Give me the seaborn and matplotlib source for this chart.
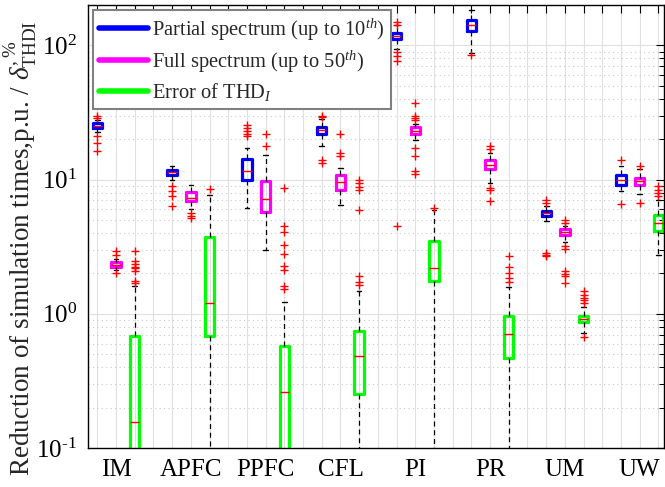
import numpy as np
import pandas as pd
import matplotlib
matplotlib.use('Agg')
import matplotlib.pyplot as plt
from matplotlib.lines import Line2D
from matplotlib.ticker import FuncFormatter
import seaborn as sns

categories = ['IM', 'APFC', 'PPFC', 'CFL', 'PI', 'PR', 'UM', 'UW']
series = ['Partial', 'Full', 'Error']
colors = {'Partial': '#0000ff', 'Full': '#ff00ff', 'Error': '#00ff00'}

# box stats per category: lower whisker, q1, median, q3, upper whisker
partial_lo = [22.7, 10.0, 6.15, 17.9, 94.5, 88.3, 4.94, 8.27]
partial_q1 = [24.3, 10.9, 9.88, 21.7, 111, 127, 5.39, 9.06]
partial_med = [25.3, 11.3, 11.6, 23.3, 117, 141, 5.64, 9.88]
partial_q3 = [26.5, 11.7, 14.3, 24.7, 124, 154, 5.87, 10.8]
partial_hi = [28.0, 12.6, 17.3, 28.4, 141, 183, 6.40, 12.6]

full_lo = [2.13, 6.08, 2.99, 6.51, 19.9, 9.45, 3.40, 7.82]
full_q1 = [2.23, 6.97, 5.74, 8.42, 21.7, 12.0, 3.87, 9.06]
full_med = [2.32, 7.34, 7.21, 9.61, 22.9, 12.9, 4.07, 9.77]
full_q3 = [2.42, 8.04, 9.71, 10.8, 24.6, 14.1, 4.29, 10.3]
full_hi = [2.56, 9.06, 15.2, 12.2, 26.0, 15.8, 4.54, 12.0]

error_lo = [0.005, 0.03, 0.01, 0.03, 0.05, 0.05, 0.718, 2.76]
error_q1 = [0.04, 0.678, 0.05, 0.252, 1.76, 0.467, 0.867, 4.11]
error_med = [0.156, 1.21, 0.261, 0.486, 2.19, 0.709, 0.918, 4.75]
error_q3 = [0.678, 3.71, 0.577, 0.747, 3.46, 0.955, 0.966, 5.48]
error_hi = [1.60, 7.69, 1.22, 1.49, 5.90, 1.58, 1.12, 7.10]

# outliers (red +)
partial_out = [
    [30.0, 28.9, 21.1, 18.8, 16.3],
    [8.9, 8.18, 7.5, 6.32],
    [25.7, 24.3, 22.9, 21.7, 21.1],
    [30.0, 29.2, 14.1, 13.3],
    [149, 143, 89.4, 83.2, 76.4, 4.54],
    [84.2],
    [7.10, 6.70, 2.84, 2.76, 2.68],
    [13.9, 6.59],
]
full_out = [
    [2.92, 2.76, 2.01],
    [5.64, 5.39, 5.18],
    [22.0, 17.9],
    [22.0, 15.8, 14.9],
    [37.4, 29.7, 28.9, 28.0, 17.3, 15.1, 11.5, 11.1],
    [17.7, 16.9, 8.67, 8.32, 6.89],
    [4.97, 4.75, 3.18, 3.05, 2.07, 1.99, 1.92, 1.71],
    [12.7, 6.70],
]
error_out = [
    [2.92, 2.49, 2.35, 2.25, 2.18, 2.07, 1.77, 1.69],
    [8.52],
    [8.67, 4.48, 4.04, 3.27, 2.80, 2.28, 2.13, 1.60, 1.53],
    [10.0, 9.5, 8.87, 8.42, 5.97, 1.90, 1.73, 1.65],
    [6.15],
    [2.68, 2.25, 2.01, 1.85, 1.74],
    [1.47, 1.39, 1.32, 1.27, 1.20, 0.670],
    [9.02, 8.42, 7.96, 7.50],
]

stats = {
    'Partial': (partial_lo, partial_q1, partial_med, partial_q3, partial_hi, partial_out),
    'Full': (full_lo, full_q1, full_med, full_q3, full_hi, full_out),
    'Error': (error_lo, error_q1, error_med, error_q3, error_hi, error_out),
}

# five points per box so the quartiles come out exactly
box_rows = []
out_rows = []
for j, s in enumerate(series):
    lo, q1, med, q3, hi, out = stats[s]
    for i in range(len(categories)):
        pos = 4 * i + j + 1
        for v in (lo[i], q1[i], med[i], q3[i], hi[i]):
            box_rows.append({'pos': pos, 'value': v, 'series': s})
        for v in out[i]:
            out_rows.append({'pos': pos, 'value': v})
box_df = pd.DataFrame(box_rows)
out_df = pd.DataFrame(out_rows)

sns.set_style('white')
plt.rcParams['font.family'] = ['Liberation Serif', 'DejaVu Serif']
plt.rcParams['mathtext.fontset'] = 'custom'
plt.rcParams['mathtext.rm'] = 'Liberation Serif'
plt.rcParams['mathtext.it'] = 'Liberation Serif:italic'
plt.rcParams['mathtext.bf'] = 'Liberation Serif:bold'

fig, ax = plt.subplots(figsize=(6.65, 4.87), dpi=100)
fig.subplots_adjust(left=0.1323, right=0.9985, bottom=0.0801, top=0.9897)
ax.set_yscale('log')

sns.boxplot(data=box_df, x='pos', y='value', hue='series', palette=colors,
            native_scale=True, dodge=False, width=0.5, fill=False,
            whis=(0, 100), showfliers=False, linewidth=2.3, legend=False,
            medianprops=dict(color='red', linewidth=1),
            whiskerprops=dict(color='black', linewidth=0.9, linestyle=(0, (4, 3))),
            capprops=dict(color='black', linewidth=1),
            ax=ax)

sns.scatterplot(data=out_df, x='pos', y='value', marker='+', color='red',
                s=30, linewidth=1, ax=ax, zorder=4)

ax.set_xlim(0.5, 31.3)
ax.set_ylim(0.1, 200)
ax.set_xticks(range(1, 32))
ax.set_xticklabels([categories[(p - 2) // 4] if (p - 2) % 4 == 0 else '' for p in range(1, 32)])


def dec_label(v, _):
    e = int(round(np.log10(v)))
    if e < 0:
        return r'$10^{\text{-}%d}$' % -e
    return r'$10^{%d}$' % e


ax.yaxis.set_major_formatter(FuncFormatter(dec_label))
ax.set_xlabel('')
ax.set_ylabel(r'Reduction of simulation times,p.u. / $\delta_{\mathrm{THDI}}^{,\%}$', fontsize=19.5)
ax.yaxis.set_label_coords(-0.085, 0.45)

ax.grid(True, which='major', color='#e0e0e0', linewidth=0.8)
ax.grid(True, which='minor', axis='y', color='#c8c8c8', linestyle=(0, (1, 3)), linewidth=0.8)
ax.set_axisbelow(True)
ax.tick_params(which='both', direction='in', top=True, right=True, colors='black')
ax.tick_params(which='major', length=6, width=0.8, labelsize=18, pad=8)
ax.tick_params(which='minor', length=3.5, width=0.7)
for sp in ax.spines.values():
    sp.set_color('black')
    sp.set_linewidth(1)

handles = [Line2D([0], [0], color=colors[s], lw=4) for s in series]
labels = [r'Partial spectrum (up to 10$^{th}$)',
          r'Full spectrum (up to 50$^{th}$)',
          r'Error of THD$_{I}$']
leg = ax.legend(handles, labels, loc='upper left', fontsize=14.8, frameon=True,
                fancybox=False, framealpha=1, edgecolor='#808080',
                handlelength=2.35, handletextpad=0.2, labelspacing=0.3,
                borderaxespad=0.25, borderpad=0.3)
leg.get_frame().set_linewidth(1.5)

plt.savefig('out.png', dpi=100)
